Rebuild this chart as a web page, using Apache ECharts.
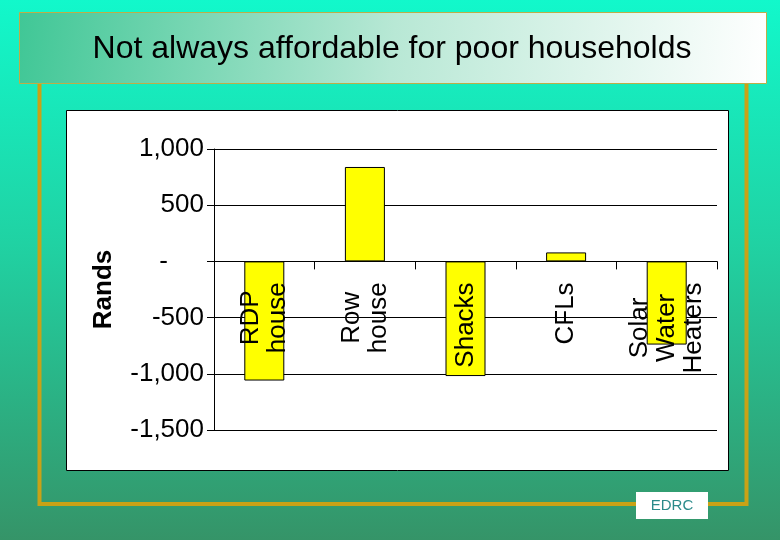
<!DOCTYPE html>
<html>
<head>
<meta charset="utf-8">
<script src="https://cdn.jsdelivr.net/npm/echarts@6/dist/echarts.min.js"></script>
<style>
html,body{margin:0;padding:0;width:780px;height:540px;overflow:hidden;}
#c{width:780px;height:540px;}
</style>
</head>
<body>
<div id="c"></div>
<script>
const titleText = 'Not always affordable for poor households';
const categories = ['RDP\nhouse', 'Row\nhouse', 'Shacks', 'CFLs', 'Solar\nWater\nHeaters'];
const values = [-1060, 840, -1020, 80, -740];
const yMin = -1500, yMax = 1000, yStep = 500;
const axisName = 'Rands';
const footerText = 'EDRC';

const FONT = '"Liberation Sans", Arial, sans-serif';
const gold = '#C9A216';

const gridTop = 149, gridBottom = 110, chartH = 540;
const plotH = chartH - gridTop - gridBottom;
const zeroOffset = plotH * (0 - yMin) / (yMax - yMin);

const chart = echarts.init(document.getElementById('c'), null, {renderer: 'canvas'});

function fmtNum(v) {
  if (v === 0) return '{z|-}';
  return '{n|' + v.toLocaleString('en-US') + '}';
}

chart.setOption({
  backgroundColor: new echarts.graphic.LinearGradient(0, 0, 0, 1, [
    {offset: 0, color: '#12F8CB'},
    {offset: 0.45, color: '#20D2A3'},
    {offset: 1, color: '#359468'}
  ]),
  animation: false,
  title: {
    text: titleText,
    left: 392,
    textAlign: 'center',
    top: 33,
    padding: 0,
    textStyle: {fontFamily: FONT, fontSize: 32, fontWeight: 'normal', color: '#000'},
    z: 10
  },
  graphic: [
    {type: 'rect', z: -5, shape: {x: 19.5, y: 12.5, width: 747, height: 71},
     style: {fill: new echarts.graphic.LinearGradient(0, 0, 1, 1, [
       {offset: 0, color: '#40C796'},
       {offset: 0.5, color: '#B8E8D5'},
       {offset: 1, color: '#FFFFFF'}
     ]), stroke: '#BDAE48', lineWidth: 1}},
    {type: 'polyline', z: -5, shape: {points: [[39.5, 84], [39.5, 504], [746.5, 504], [746.5, 84]]},
     style: {stroke: gold, lineWidth: 4, fill: null}},
    {type: 'rect', z: -5, shape: {x: 66.5, y: 110.5, width: 662, height: 360},
     style: {fill: '#FFFFFF', stroke: '#000', lineWidth: 1}},
    {type: 'rect', z: -4, shape: {x: 636, y: 492, width: 72, height: 27},
     style: {fill: '#FFFFFF'}},
    {type: 'text', z: -3, x: 672, y: 506,
     style: {text: footerText, fill: '#2A8A8A', font: '15px ' + FONT, textAlign: 'center', textVerticalAlign: 'middle'}}
  ],
  grid: {left: 214, right: 63, top: gridTop, bottom: gridBottom, containLabel: false, outerBoundsMode: 'none'},
  xAxis: {
    type: 'category',
    data: categories,
    z: 10,
    position: 'bottom',
    offset: -zeroOffset,
    axisLine: {show: true, onZero: false, lineStyle: {color: '#000', width: 1}},
    axisTick: {show: true, length: 8, alignWithLabel: false, interval: 0, lineStyle: {color: '#000'}},
    axisLabel: {
      interval: 0,
      rotate: 90,
      margin: 21,
      hideOverlap: false,
      color: '#000',
      fontFamily: FONT,
      fontSize: 26,
      lineHeight: 27,
      formatter: function (v) { return v.split('\n').map(s => '{c|' + s + '}').join('\n'); },
      rich: {c: {align: 'center', fontFamily: FONT, fontSize: 26, lineHeight: 27, color: '#000'}}
    },
    splitLine: {show: false}
  },
  yAxis: {
    type: 'value',
    min: yMin, max: yMax, interval: yStep,
    name: axisName,
    nameLocation: 'middle',
    nameRotate: 90,
    nameGap: 97,
    nameMoveOverlap: false,
    nameTextStyle: {fontFamily: FONT, fontSize: 26, fontWeight: 'bold', color: '#000'},
    axisLine: {show: true, lineStyle: {color: '#000', width: 1}},
    axisTick: {show: true, length: 7, lineStyle: {color: '#000'}},
    axisLabel: {
      margin: 10,
      color: '#000',
      fontFamily: FONT,
      fontSize: 26,
      formatter: fmtNum,
      rich: {
        n: {fontFamily: FONT, fontSize: 26, color: '#000'},
        z: {fontFamily: FONT, fontSize: 26, color: '#000', padding: [0, 36, 0, 0]}
      }
    },
    splitLine: {show: true, lineStyle: {color: '#000', width: 1}}
  },
  series: [{
    type: 'bar',
    data: values,
    barWidth: 40,
    itemStyle: {color: '#FFFF00', borderColor: '#000', borderWidth: 1}
  }]
});
</script>
</body>
</html>
